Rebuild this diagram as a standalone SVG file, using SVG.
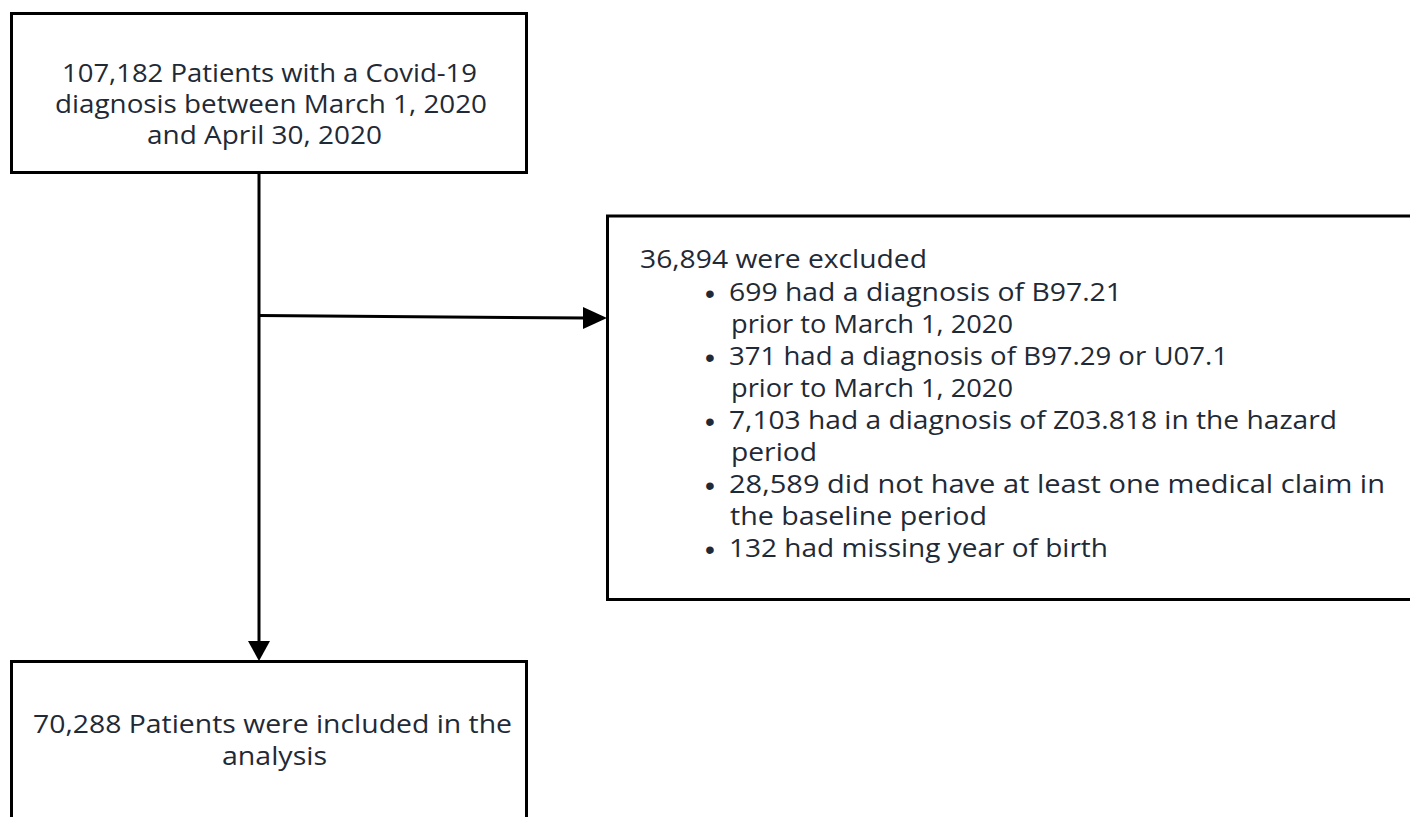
<svg xmlns="http://www.w3.org/2000/svg" width="1410" height="817" viewBox="0 0 1410 817">
<style>
.box{fill:#fff;stroke:#000;stroke-width:3}
.t{font-family:"Open Sans","Noto Sans",sans-serif;font-size:25px;fill:#1f2a36}
.b{font-family:"Liberation Sans",Arial,sans-serif;font-size:28px;fill:#1f2a36}
.ln{stroke:#000;stroke-width:3;fill:none}
</style>
<rect width="1410" height="817" fill="#fff"/>
<g id="connectors">
<line class="ln" x1="259" y1="173" x2="259" y2="645"/>
<path d="M248,641 L270,641 L259,661 Z" fill="#000"/>
<line class="ln" x1="259" y1="315.5" x2="586" y2="318"/>
<path d="M583,307 L607,318 L583,329 Z" fill="#000"/>
</g>
<g id="n1">
<rect class="box" x="11.5" y="13.5" width="515" height="159"/>
<text class="t" x="62" y="82" textLength="415" lengthAdjust="spacingAndGlyphs">107,182 Patients with a Covid-19</text>
<text class="t" x="55" y="113" textLength="432" lengthAdjust="spacingAndGlyphs">diagnosis between March 1, 2020</text>
<text class="t" x="147" y="144" textLength="235" lengthAdjust="spacingAndGlyphs">and April 30, 2020</text>
</g>
<g id="n2">
<rect class="box" x="607.5" y="216" width="810" height="383.5"/>
<text class="t" x="640" y="268" textLength="287" lengthAdjust="spacingAndGlyphs">36,894 were excluded</text>
<text class="b" x="705" y="303">•</text>
<text class="t" x="729" y="301" textLength="393" lengthAdjust="spacingAndGlyphs">699 had a diagnosis of B97.21</text>
<text class="t" x="731" y="333" textLength="282" lengthAdjust="spacingAndGlyphs">prior to March 1, 2020</text>
<text class="b" x="705" y="367">•</text>
<text class="t" x="729" y="365" textLength="499" lengthAdjust="spacingAndGlyphs">371 had a diagnosis of B97.29 or U07.1</text>
<text class="t" x="731" y="397" textLength="282" lengthAdjust="spacingAndGlyphs">prior to March 1, 2020</text>
<text class="b" x="705" y="431">•</text>
<text class="t" x="729" y="429" textLength="608" lengthAdjust="spacingAndGlyphs">7,103 had a diagnosis of Z03.818 in the hazard</text>
<text class="t" x="731" y="461" textLength="86" lengthAdjust="spacingAndGlyphs">period</text>
<text class="b" x="705" y="495">•</text>
<text class="t" x="729" y="493" textLength="656" lengthAdjust="spacingAndGlyphs">28,589 did not have at least one medical claim in</text>
<text class="t" x="730" y="525" textLength="257" lengthAdjust="spacingAndGlyphs">the baseline period</text>
<text class="b" x="705" y="559">•</text>
<text class="t" x="729" y="557" textLength="379" lengthAdjust="spacingAndGlyphs">132 had missing year of birth</text>
</g>
<g id="n3">
<rect class="box" x="11.5" y="661.5" width="515" height="170"/>
<text class="t" x="33" y="733" textLength="479" lengthAdjust="spacingAndGlyphs">70,288 Patients were included in the</text>
<text class="t" x="222" y="765" textLength="105" lengthAdjust="spacingAndGlyphs">analysis</text>
</g>
</svg>
